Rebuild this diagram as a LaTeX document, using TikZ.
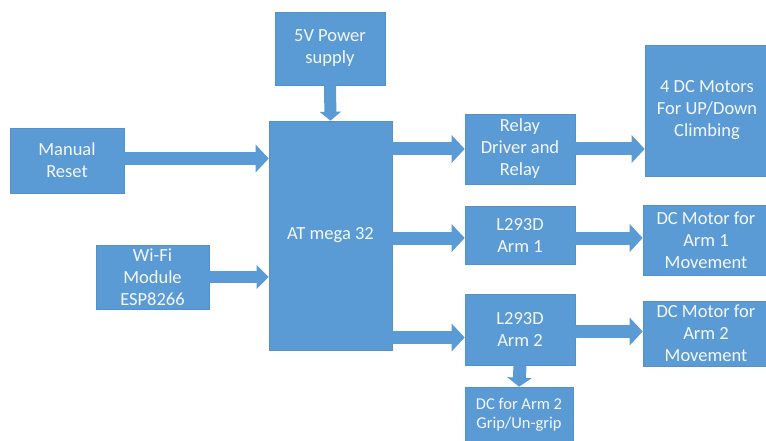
\documentclass[tikz,border=0pt]{standalone}
\usepackage{fontspec}
\setmainfont{Carlito}
\usetikzlibrary{arrows.meta}
\definecolor{boxblue}{HTML}{5B9BD5}
\definecolor{boxedge}{HTML}{5291CD}
\definecolor{txt}{HTML}{F4F8FC}
\tikzset{
  blk/.style={fill=boxblue, draw=boxedge, line width=0.6pt, text=txt, align=center,
    font=\fontsize{18.5}{22}\selectfont, inner sep=0pt},
  barrow/.style={draw=boxblue, line width=13pt, -{Triangle[length=13pt,width=27pt]}, shorten >=0pt},
  sarrow/.style={draw=boxblue, line width=12pt, -{Triangle[length=9pt,width=21pt]}},
}
\begin{document}
\begin{tikzpicture}[x=1pt,y=-1pt]
\useasboundingbox (0,0) rectangle (766,441);
\fill[white] (0,0) rectangle (766,441);
\node[blk, minimum width=110pt, minimum height=73pt] (power) at (330,48.5) {5V Power\\supply};
\node[blk, minimum width=114pt, minimum height=65pt] (reset) at (67,160.5) {Manual\\Reset};
\node[blk, minimum width=113pt, minimum height=64pt] (wifi) at (152.5,277) {Wi-Fi\\Module\\ESP8266};
\node[blk, minimum width=123pt, minimum height=229pt] (at) at (330.5,235.5) {AT mega 32};
\node[blk, minimum width=110pt, minimum height=70pt] (relay) at (520,149) {Relay\\Driver and\\Relay};
\node[blk, minimum width=110pt, minimum height=58pt] (l1) at (520,235) {L293D\\Arm 1};
\node[blk, minimum width=110pt, minimum height=71pt] (l2) at (520,329.5) {L293D\\Arm 2};
\node[blk, minimum width=108pt, minimum height=56pt, font=\fontsize{16.5}{18.5}\selectfont] (grip) at (519,415) {DC for Arm 2\\Grip/Un-grip};
\node[blk, minimum width=124pt, minimum height=131pt] (dc4) at (707,110.5) {4 DC Motors\\For UP/Down\\Climbing};
\node[blk, minimum width=126pt, minimum height=70pt] (m1) at (706,240) {DC Motor for\\Arm 1\\Movement};
\node[blk, minimum width=126pt, minimum height=65pt] (m2) at (706,333.5) {DC Motor for\\Arm 2\\Movement};
% arrows
\draw[sarrow] (power.south) -- (at.north);
\draw[barrow] ([yshift=2pt]reset.east) -- ([yshift=2pt]reset.east -| at.west);
\draw[barrow, line width=12pt, -{Triangle[length=12pt,width=23pt]}] (wifi.east) -- (wifi.east -| at.west);
\draw[barrow] (relay.west -| at.east) -- (relay.west);
\draw[barrow] ([yshift=-3pt]l1.west -| at.east) -- ([yshift=-3pt]l1.west);
\draw[barrow] ([yshift=-8pt]l2.west -| at.east) -- ([yshift=-8pt]l2.west);
\draw[barrow] (relay.east) -- (relay.east -| dc4.west);
\draw[barrow] ([yshift=-3pt]l1.east) -- ([yshift=-3pt]l1.east -| m1.west);
\draw[barrow] ([yshift=-2pt]l2.east) -- ([yshift=-2pt]l2.east -| m2.west);
\draw[sarrow, line width=13pt, -{Triangle[length=9pt,width=24pt]}] (l2.south) -- (grip.north);
\end{tikzpicture}
\end{document}
